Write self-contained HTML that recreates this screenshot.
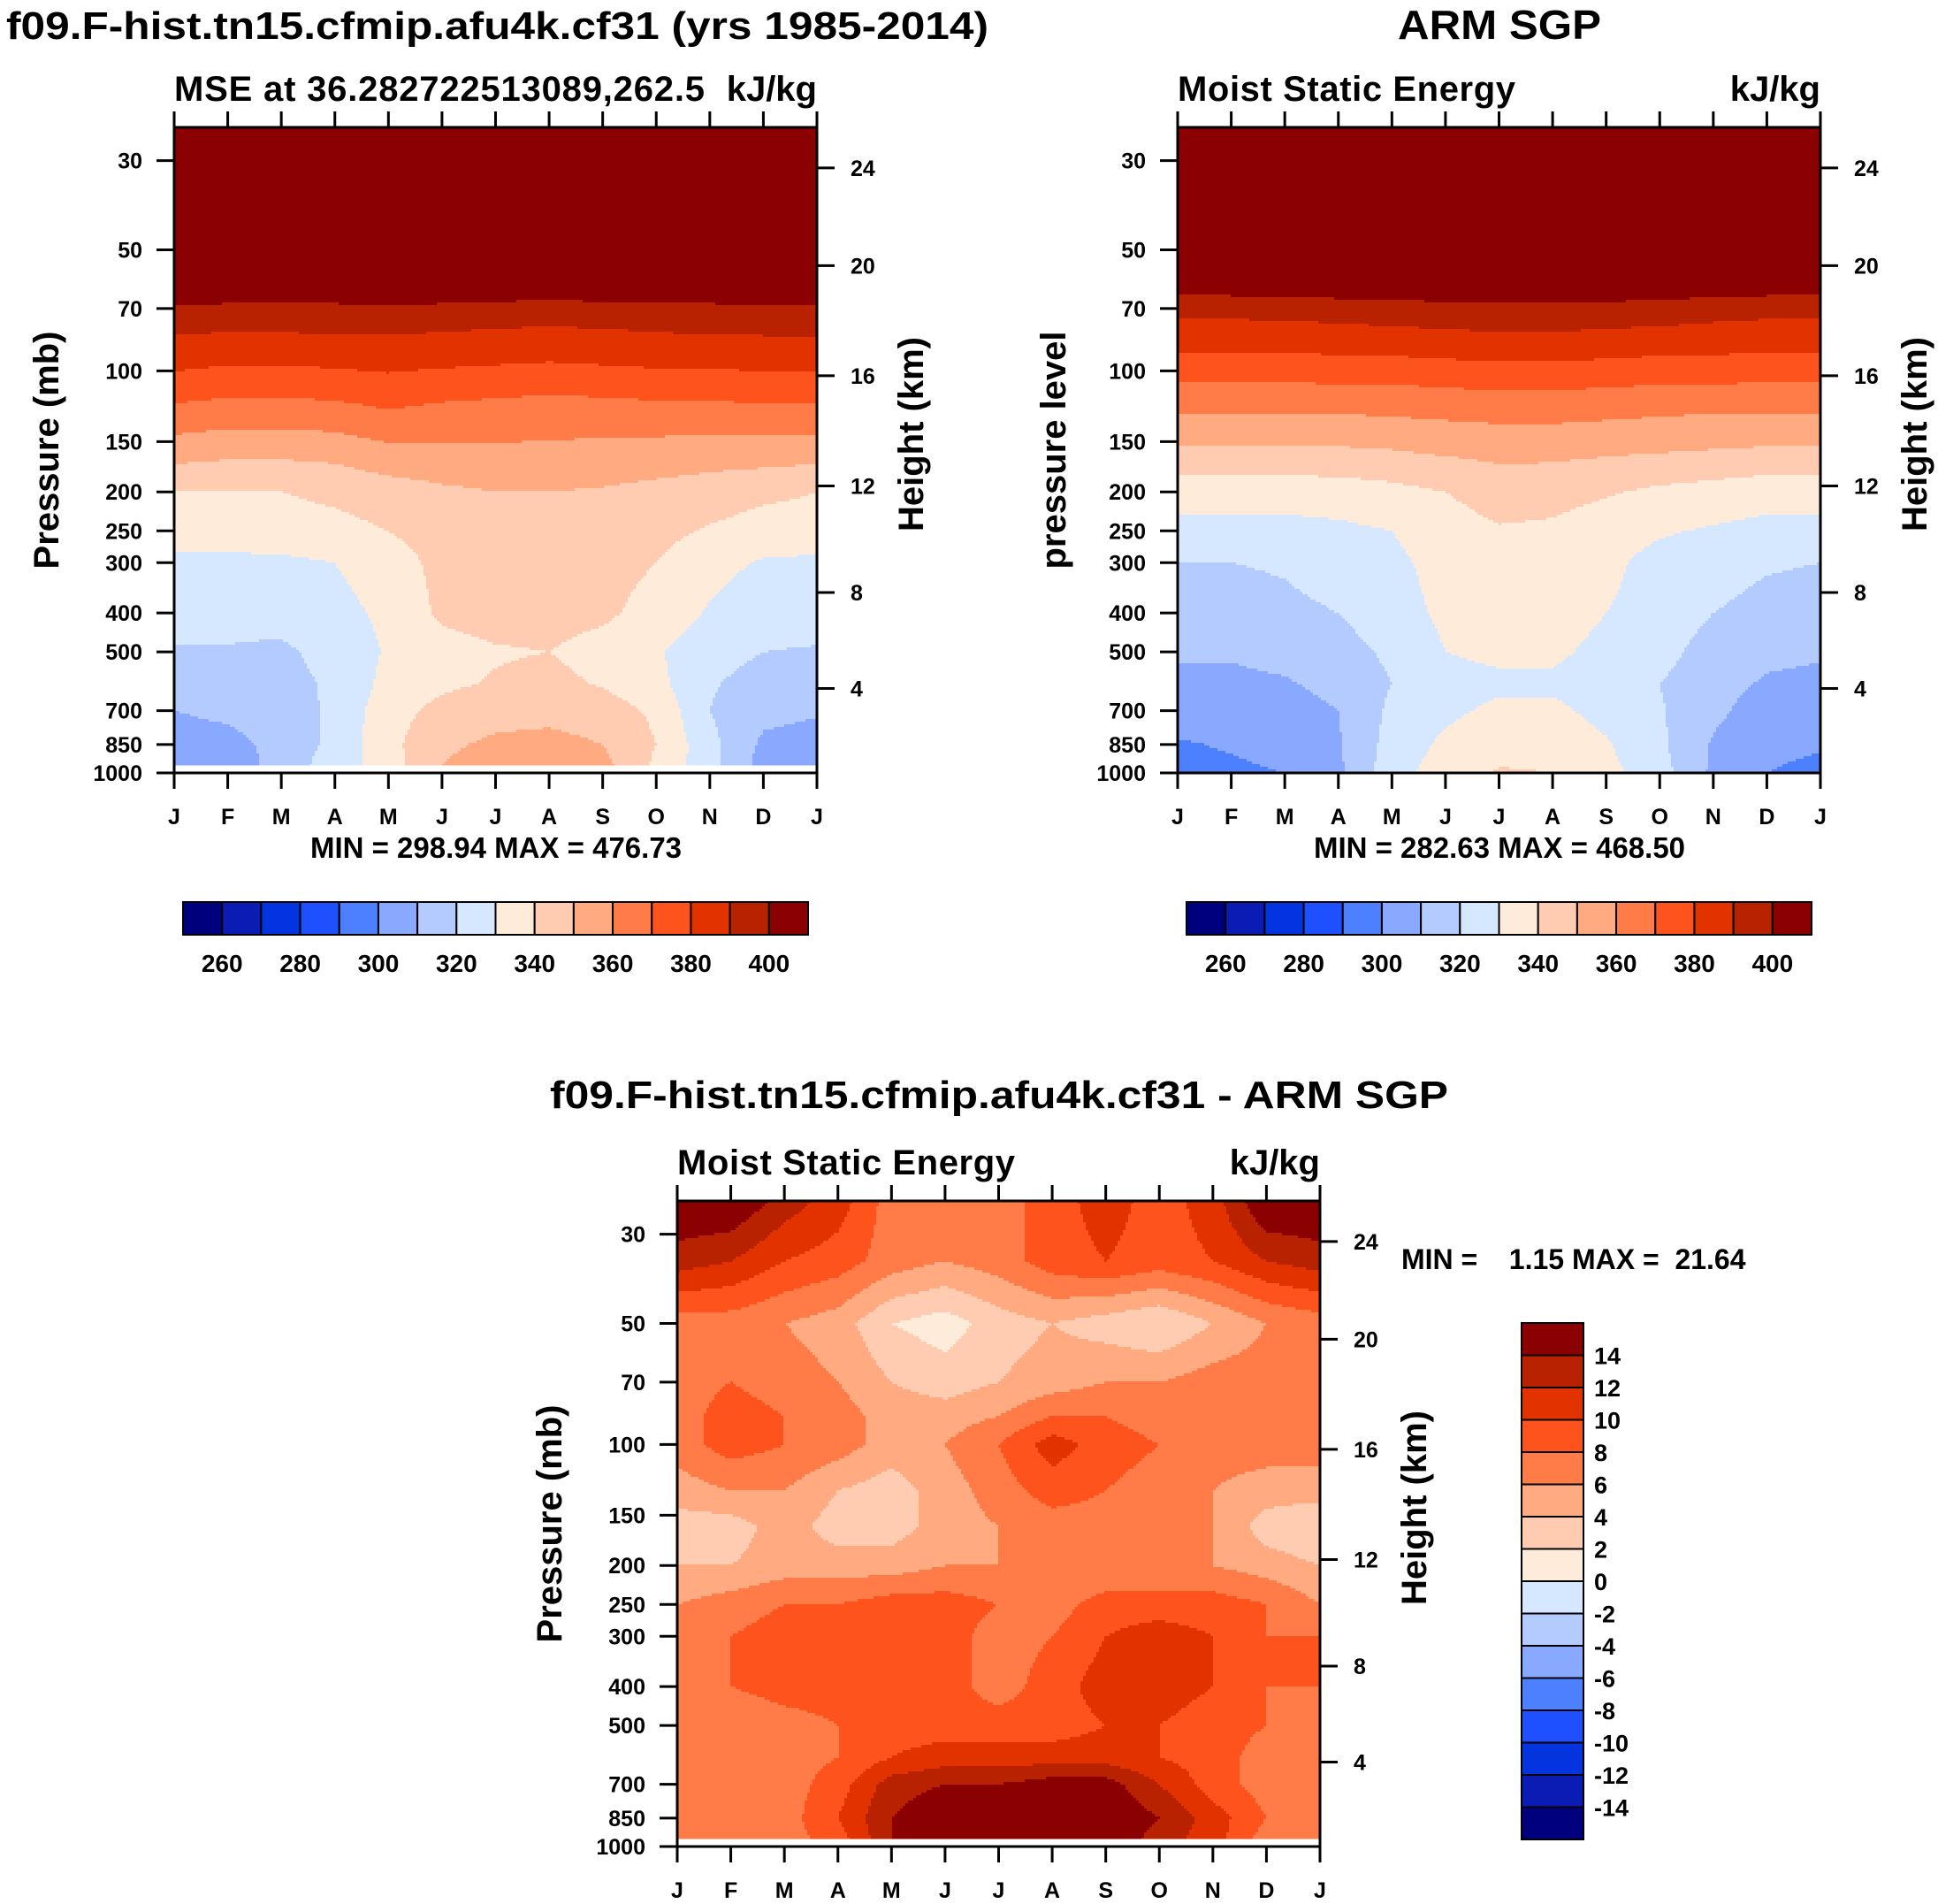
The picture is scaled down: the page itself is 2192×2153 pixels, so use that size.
<!DOCTYPE html>
<html><head><meta charset="utf-8">
<style>
html,body{margin:0;padding:0;background:#fff;}
svg{display:block;font-family:"Liberation Sans",Arial,sans-serif;font-weight:bold;}
</style></head>
<body>
<svg id="root" width="2192" height="2153" viewBox="0 0 2192 2153" xmlns="http://www.w3.org/2000/svg">
<rect width="2192" height="2153" fill="#fff"/>
<text x="7" y="44" font-size="44" textLength="1111" lengthAdjust="spacingAndGlyphs">f09.F-hist.tn15.cfmip.afu4k.cf31 (yrs 1985-2014)</text>
<text x="1696" y="44" font-size="46" text-anchor="middle" textLength="230" lengthAdjust="spacingAndGlyphs">ARM SGP</text>
<text x="1130" y="1253" font-size="44" text-anchor="middle" textLength="1016" lengthAdjust="spacingAndGlyphs">f09.F-hist.tn15.cfmip.afu4k.cf31 - ARM SGP</text>
<g id="p1"></g>
<g id="p2"></g>
<g id="p3"></g>
</svg>
<script>
// ---------- data ----------
const months = ["J","F","M","A","M","J","J","A","S","O","N","D","J"];
const pressureTicks = [30,50,70,100,150,200,250,300,400,500,700,850,1000];
const heightTicks = [4,8,12,16,20,24];
const mseLevels = [260,270,280,290,300,310,320,330,340,350,360,370,380,390,400];
const mseLabels = [260,280,300,320,340,360,380,400];
const diffLevels = [-14,-12,-10,-8,-6,-4,-2,0,2,4,6,8,10,12,14];
const diffLabels = [14,12,10,8,6,4,2,0,-2,-4,-6,-8,-10,-12,-14];
const colors = ["#00007f","#0a1cb4","#0434e0","#1e50ff","#4d80ff","#88a9ff","#b4cbff","#d6e8ff",
 "#ffebd9","#ffccb2","#ffaa80","#ff7c48","#ff531e","#e13200","#b92200","#8b0000"];

const modelP = [25,50,68,80,95,110,130,160,200,250,300,400,500,600,700,850,955];
const modelMSE = [
[470,470,470,470,470,470,470,470,470,470,470,470,470],
[430,430,430,430,430,430,430,430,430,430,430,430,430],
[401,400,400,400,401,400,399,398,399,400,400,401,401],
[391,390,390,391,391,390,389,388,389,390,391,391,391],
[383,381,381,382,383,382,381,380,381,382,382,383,383],
[375,373,373,374,376,374,373,372,373,374,374,375,375],
[366,364,364,365,368,366,365,364,364,365,365,366,366],
[354,352,352,353,357,358,358,358,357,356,355,355,354],
[340,340,340,342,345,348,350,350,349,347,345,342,340],
[336,336,336,337,340,345,346,346,345,343,339,336,336],
[327,327,328,330,335,343,345,345,344,340,333,329,328],
[324,324,324,327,332,342,344,344,342,336,329,325,325],
[319,319,318,324,331,336,339,340,336,331,324,320,319],
[315,315,316,322,333,338,341,343,339,333,321,316,315],
[310,312,315,322,336,343,346,347,345,338,320,313,311],
[306,307,313,323,337,348,352,353,350,340,323,308,306],
[303,304,314,325,335,350,355,356,353,338,324,306,300]];
const modelBottomP = 955;

const obsP = [25,50,68,80,95,110,130,160,200,250,300,400,500,600,700,850,1000];
const obsMSE = [
[465,465,465,465,465,465,465,465,465,465,465,465,465],
[430,430,430,430,430,430,430,430,430,430,430,430,430],
[395,395,396,397,398,399,400,400,399,398,396,395,395],
[386,386,386,387,388,389,390,390,389,388,387,386,386],
[377,377,377,378,378,379,380,380,379,378,378,377,377],
[368,368,368,369,369,370,371,371,370,369,369,368,368],
[359,359,359,359,360,361,362,362,361,360,359,359,359],
[348,348,348,348,349,351,352,352,351,350,349,348,348],
[334,334,334,335,337,340,345,344,341,338,336,334,334],
[327,327,327,328,330,335,339,338,334,331,329,327,327],
[320,320,321,324,328,333,337,336,332,327,324,321,320],
[316,316,318,320,326,332,335,335,330,327,320,317,316],
[311,311,313,316,322,330,332,332,327,324,315,312,311],
[308,308,309,313,320,327,328,328,325,320,313,309,308],
[305,305,306,310,322,328,332,332,327,321,312,306,305],
[299,301,304,309,324,332,336,336,331,322,309,303,301],
[297,298,300,308,326,335,341,340,333,324,308,300,297]];
const obsBottomP = 1000;

const diffP = [25,35,50,70,85,100,130,160,200,250,300,400,500,600,700,850,955];
const diffMSE = [
[16,16,13,11,7,7,7,9,11,9,11,16,16],
[13,12,10,9,7,6,7,9,10,9,10,12,13],
[7,7,6,5,2,1,3,4,3,2,4,6,7],
[7,8,7,6,4,3,4,5,6,6,7,7,7],
[7,9,8,7,5,5,6,8,8,7,7,7,7],
[7,9,8,7,5,6,8,11,9,8,7,7,7],
[5,6,6,4,3,5,7,9,8,7,6,5,5],
[3,3,5,3,3,5,6,7,7,7,6,3,2],
[4,4,5,5,5,6,6,6,6,6,6,5,4],
[6,7,8,8,9,9,8,7,9,9,9,8,6],
[7,8,9,9,9,9,7,8,10,11,10,8,8],
[8,8,9,9,9,9,7,9,11,11,10,8,8],
[7,6,7,8,9,9,9,9,10,10,9,8,7],
[6,6,7,8,10,11,11,11,11,10,9,7,6],
[6,6,7,9,13,14,14,15,15,12,9,7,6],
[6,7,7,10,14,16,16,16,16,14,11,8,6],
[6,7,7,9,14,16,16,16,16,13,11,7,6]];
const diffBottomP = 955;

// ---------- helpers ----------
const NS = "http://www.w3.org/2000/svg";
const LOG_TOP = Math.log10(24.8), LOG_BOT = 3;
function mk(parent, tag, attrs, txt){
  const e = document.createElementNS(NS, tag);
  for (const k in attrs) e.setAttribute(k, attrs[k]);
  if (txt !== undefined) e.textContent = txt;
  parent.appendChild(e); return e;
}
function yOfP(p, y0, h){ return y0 + (Math.log10(p) - LOG_TOP) / (LOG_BOT - LOG_TOP) * h; }
function xOfM(m, x0, w){ return x0 + m / 12 * w; }
function pOfZ(zkm){
  const z = zkm*1000;
  if (z <= 11000) return 1013.25*Math.pow(1-2.25577e-5*z,5.25588);
  if (z <= 20000) return 226.32*Math.exp(-0.000157688*(z-11000));
  return 54.75*Math.exp(-(z-20000)/7150);
}
function sample(P, grid, p, m){
  const lp = Math.log10(p);
  let i = 0;
  while (i < P.length-2 && Math.log10(P[i+1]) < lp) i++;
  let t = (lp - Math.log10(P[i])) / (Math.log10(P[i+1]) - Math.log10(P[i]));
  t = Math.max(0, Math.min(1, t));
  const j = Math.min(11, Math.floor(m)); const s = m - j;
  const a = grid[i][j]*(1-s) + grid[i][j+1]*s;
  const b = grid[i+1][j]*(1-s) + grid[i+1][j+1]*s;
  return a*(1-t) + b*t;
}
function colorIdx(v, levels){ let k=0; while(k<levels.length && v>=levels[k]) k++; return k; }

function panel(g, cfg){
  const {x0,y0,w,h,P,grid,bottomP,levels} = cfg;
  const field = mk(g,"g",{});
  
  
  const step = 3;
  const nCols = Math.ceil(w/step);
  const yBot = yOfP(bottomP, y0, h);
  for (let yy = y0; yy < y0+h; yy += step){
    const yc = Math.min(yy + step/2, yBot - 0.5);
    if (yy >= yBot) break;
    const p = Math.pow(10, LOG_TOP + (yc-y0)/h*(LOG_BOT-LOG_TOP));
    const hh = Math.min(step, yBot-yy) + 0.6;
    let runStart = x0, runC = -1;
    for (let ci = 0; ci <= nCols; ci++){
      const xx = x0 + ci*step;
      let c = -1;
      if (ci < nCols){
        const m = Math.min((ci+0.5)*step, w)/w*12;
        c = colorIdx(sample(P, grid, p, m), levels);
      }
      if (c !== runC){
        if (runC >= 0){
          const xe = Math.min(xx, x0+w);
          const r = mk(field,"rect",{x:runStart.toFixed(1),y:yy.toFixed(1),width:(xe-runStart+0.6).toFixed(1),height:hh.toFixed(1),fill:colors[runC]});
          
          
        }
        runStart = xx; runC = c;
      }
    }
  }
  const fr = mk(g,"rect",{x:x0,y:y0,width:w,height:h,fill:"none",stroke:"#000","stroke-width":3});
  
  
  months.forEach((lab,i)=>{
    const x = xOfM(i,x0,w);
    mk(g,"line",{x1:x,x2:x,y1:y0,y2:y0-18,stroke:"#000","stroke-width":3});
    mk(g,"line",{x1:x,x2:x,y1:y0+h,y2:y0+h+18,stroke:"#000","stroke-width":3});
    const t = mk(g,"text",{x:x,y:y0+h+58,"font-size":25,"text-anchor":"middle"},lab);
    
    
  });
  pressureTicks.forEach(p=>{
    const y = yOfP(p,y0,h);
    mk(g,"line",{x1:x0,x2:x0-20,y1:y,y2:y,stroke:"#000","stroke-width":3});
    const t = mk(g,"text",{x:x0-36,y:y+9,"font-size":25,"text-anchor":"end"},String(p));
    
    
  });
  heightTicks.forEach(z=>{
    const y = yOfP(pOfZ(z),y0,h);
    mk(g,"line",{x1:x0+w,x2:x0+w+20,y1:y,y2:y,stroke:"#000","stroke-width":3});
    const t = mk(g,"text",{x:x0+w+38,y:y+9,"font-size":25},String(z));
    
    
  });
  const yt = mk(g,"text",{x:0,y:0,"font-size":40,"text-anchor":"middle",transform:`translate(${cfg.ylabX},${y0+h/2}) rotate(-90)`},cfg.ylab);
  
  
  const rt = mk(g,"text",{x:0,y:0,"font-size":40,"text-anchor":"middle",transform:`translate(${x0+w+120},${y0+h/2-18}) rotate(-90)`},"Height (km)");
  
  
  const st = mk(g,"text",{x:x0,y:y0-30,"font-size":40},cfg.sub);
  if (cfg.subLen) st.setAttribute('textLength', cfg.subLen);
  
  
  const un = mk(g,"text",{x:x0+w,y:y0-30,"font-size":40,"text-anchor":"end"},"kJ/kg");
  
  
}

function hbar(g, x0, y0, w, h){
  const bw = w/16;
  colors.forEach((c,i)=>{
    const r = mk(g,"rect",{x:x0+i*bw,y:y0,width:bw,height:h,fill:c,stroke:"#000","stroke-width":2});
    
    
  });
  mseLabels.forEach(v=>{
    const k = mseLevels.indexOf(v);
    const t = mk(g,"text",{x:x0+(k+1)*bw,y:y0+h+42,"font-size":28,"text-anchor":"middle"},String(v));
    
    
  });
}
function vbar(g, x0, y0, w, h){
  const bh = h/16;
  for (let i=0;i<16;i++){
    const r = mk(g,"rect",{x:x0,y:y0+i*bh,width:w,height:bh,fill:colors[15-i],stroke:"#000","stroke-width":2});
    
    
  }
  diffLabels.forEach((v,k)=>{
    const t = mk(g,"text",{x:x0+w+12,y:y0+(k+1)*bh+10,"font-size":27},String(v));
    
    
  });
}

const g1 = document.getElementById('p1'), g2 = document.getElementById('p2'), g3 = document.getElementById('p3');
panel(g1,{prefix:"model",x0:197,y0:144,w:727,h:730,P:modelP,grid:modelMSE,bottomP:modelBottomP,levels:mseLevels,
  ylab:"Pressure (mb)",ylabX:66,sub:"MSE at 36.282722513089,262.5",subLen:600});
panel(g2,{prefix:"obs",x0:1332,y0:144,w:727,h:730,P:obsP,grid:obsMSE,bottomP:obsBottomP,levels:mseLevels,
  ylab:"pressure level",ylabX:1205,sub:"Moist Static Energy",subLen:382});
panel(g3,{prefix:"diff",x0:766,y0:1358,w:727,h:730,P:diffP,grid:diffMSE,bottomP:diffBottomP,levels:diffLevels,
  ylab:"Pressure (mb)",ylabX:635,sub:"Moist Static Energy",subLen:382});
let t;
t = mk(g1,"text",{x:561,y:970,"font-size":33,"text-anchor":"middle"},"MIN = 298.94 MAX = 476.73");


t = mk(g2,"text",{x:1696,y:970,"font-size":33,"text-anchor":"middle"},"MIN = 282.63 MAX = 468.50");


t = mk(g3,"text",{x:1585,y:1435,"font-size":32},"MIN =    1.15 MAX =  21.64");


t.style.whiteSpace = 'pre';
hbar(g1,207,1020,707,37);
hbar(g2,1342,1020,707,37);
vbar(g3,1721,1496,70,584);
</script>
</body></html>
